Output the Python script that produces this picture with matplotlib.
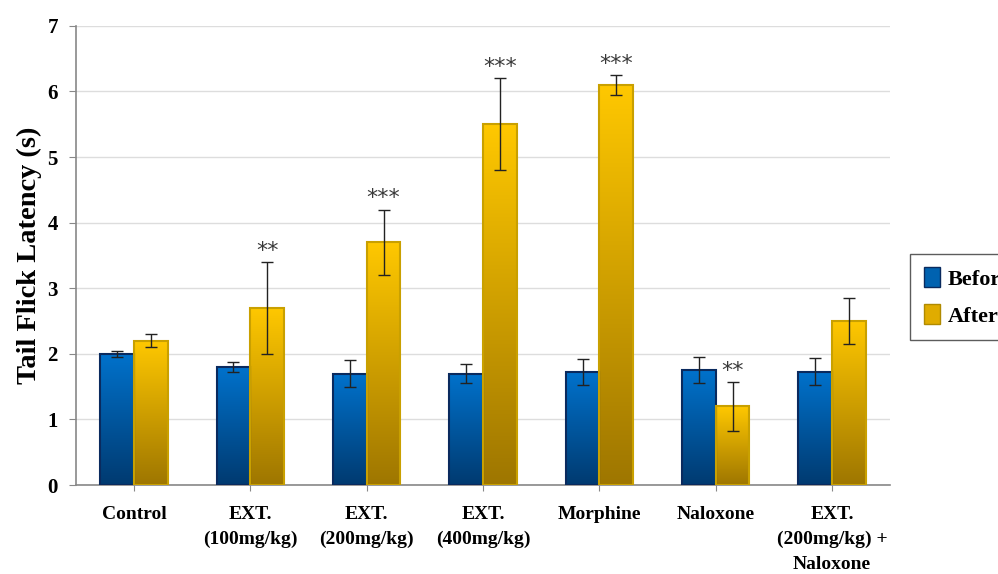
import numpy as np
import matplotlib
matplotlib.use("Agg")
import matplotlib.pyplot as plt
from matplotlib.colors import LinearSegmentedColormap
from matplotlib.patches import Patch

categories = ["Control", "EXT.\n(100mg/kg)", "EXT.\n(200mg/kg)", "EXT.\n(400mg/kg)",
              "Morphine", "Naloxone", "EXT.\n(200mg/kg) +\nNaloxone"]
before = [2.0, 1.8, 1.7, 1.7, 1.72, 1.75, 1.73]
before_err = [0.05, 0.07, 0.2, 0.15, 0.2, 0.2, 0.2]
after = [2.2, 2.7, 3.7, 5.5, 6.1, 1.2, 2.5]
after_err = [0.1, 0.7, 0.5, 0.7, 0.15, 0.37, 0.35]
stars = ["", "**", "***", "***", "***", "**", ""]

SERIF = ["Liberation Serif", "DejaVu Serif"]
plt.rcParams["font.family"] = SERIF
plt.rcParams["font.weight"] = "bold"

blue_cmap = LinearSegmentedColormap.from_list("blue", ["#003A70", "#0072CC"])
gold_cmap = LinearSegmentedColormap.from_list("gold", ["#9E7600", "#FFC800"])

fig = plt.figure(figsize=(9.98, 5.74), dpi=100)
ax = fig.add_axes([0.076, 0.155, 0.816, 0.8])

x = np.arange(len(categories))
w = 0.29


def gradient_bars(xs, heights, cmap, edge):
    bars = ax.bar(xs, heights, w, facecolor="none", edgecolor=edge, linewidth=1.5, zorder=3)
    grad = np.linspace(0, 1, 256).reshape(-1, 1)
    for b in bars:
        x0, y0 = b.get_x(), b.get_y()
        im = ax.imshow(grad, cmap=cmap, origin="lower", aspect="auto",
                       extent=[x0, x0 + b.get_width(), y0, y0 + b.get_height()], zorder=2)
        im.set_clip_path(b)
    return bars


gradient_bars(x - w / 2, before, blue_cmap, "#0A2A5E")
gradient_bars(x + w / 2, after, gold_cmap, "#C9A000")

ax.errorbar(x - w / 2, before, yerr=before_err, fmt="none", ecolor="#222222",
            elinewidth=1, capsize=4, capthick=1, zorder=4)
ax.errorbar(x + w / 2, after, yerr=after_err, fmt="none", ecolor="#222222",
            elinewidth=1, capsize=4, capthick=1, zorder=4)

for xi, v, e, s in zip(x, after, after_err, stars):
    if s:
        ax.text(xi + w / 2, v + e + 0.02, s, ha="center", va="bottom",
                fontsize=16, fontweight="normal", color="#3A3A3A", family=["DejaVu Sans"])

ax.set_xlim(-0.5, len(categories) - 0.5)
ax.set_ylim(0, 7)
ax.set_yticks(range(8))
ax.set_xticks(x)
ax.set_xticklabels(categories, fontsize=14, fontweight="bold", va="top", linespacing=1.6)
ax.tick_params(axis="x", length=4, color="#888888", pad=11)
ax.tick_params(axis="y", labelsize=15, length=5, color="#888888", pad=8)
for lab in ax.get_yticklabels():
    lab.set_fontweight("bold")

ax.yaxis.grid(True, color="#DDDDDD", linewidth=1)
ax.set_axisbelow(True)
for side in ["top", "right"]:
    ax.spines[side].set_visible(False)
for side in ["left", "bottom"]:
    ax.spines[side].set_color("#888888")
    ax.spines[side].set_linewidth(1.2)

ax.set_ylabel("Tail Flick Latency (s)", fontsize=20.5, fontweight="bold", labelpad=4)

handles = [Patch(facecolor="#0062B0", edgecolor="#0A2A5E", label="Before"),
           Patch(facecolor="#E0AC00", edgecolor="#B08A00", label="After")]
fig.legend(handles=handles, loc="upper left", bbox_to_anchor=(0.912, 0.558),
           frameon=True, fancybox=False, edgecolor="#333333",
           handlelength=0.75, handleheight=1.0, handletextpad=0.35,
           labelspacing=0.65, borderpad=0.6, borderaxespad=0,
           prop={"weight": "bold", "size": 16})

fig.savefig("out.png", dpi=100)
